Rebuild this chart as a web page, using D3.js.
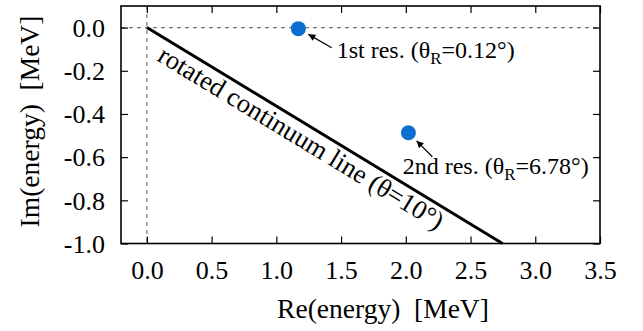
<!DOCTYPE html>
<html>
<head>
<meta charset="utf-8">
<script src="https://cdn.jsdelivr.net/npm/d3@7"></script>
<style>
  html, body { margin: 0; padding: 0; background: #fff; }
  svg { display: block; }
</style>
</head>
<body>
<svg id="chart" width="643" height="331"></svg>
<script>
// Complex-energy plane: rotated continuum and resonance poles
const xTicks = [0.0, 0.5, 1.0, 1.5, 2.0, 2.5, 3.0, 3.5];
const yTicks = [0.0, -0.2, -0.4, -0.6, -0.8, -1.0];
const xDomain = [-0.2, 3.5];
const yDomain = [-1.0, 0.1];

// rotated continuum line, theta = 10 deg (slope tan 20 deg)
const continuumRe = [0.0, 2.747];
const continuumIm = [0.0, -1.0];

// resonance poles
const resRe = [1.17, 2.02];
const resIm = [-0.005, -0.487];
const resName = ["1st res. (θ", "2nd res. (θ"];
const resAngle = ["=0.12°)", "=6.78°)"];
// label anchor and arrow tail, in data coordinates
const labelRe = [1.466, 1.976];
const labelIm = [-0.142, -0.678];
const arrowRe = [1.428, 2.205];
const arrowIm = [-0.093, -0.598];

const serif = "'Liberation Serif', 'Times New Roman', serif";
const svg = d3.select("#chart");
const plotL = 121, plotR = 600, plotT = 6, plotB = 243.5;

const x = d3.scaleLinear().domain(xDomain).range([plotL, plotR]);
const y = d3.scaleLinear().domain(yDomain).range([plotB, plotT]);
const fmt = v => (v < 0 ? "-" : "") + Math.abs(v).toFixed(1);

const defs = svg.append("defs");
defs.append("marker")
  .attr("id", "head")
  .attr("viewBox", "0 0 10 10")
  .attr("refX", 10).attr("refY", 5)
  .attr("markerWidth", 9).attr("markerHeight", 7)
  .attr("markerUnits", "userSpaceOnUse")
  .attr("orient", "auto")
  .append("path").attr("d", "M0,0L10,5L0,10z").attr("fill", "#000");

// zero reference lines
svg.append("line")
  .attr("x1", plotL).attr("x2", plotR)
  .attr("y1", y(0)).attr("y2", y(0))
  .attr("stroke", "#777").attr("stroke-width", 1.2)
  .attr("stroke-dasharray", "4,4");
svg.append("line")
  .attr("x1", x(0)).attr("x2", x(0))
  .attr("y1", plotT).attr("y2", plotB)
  .attr("stroke", "#777").attr("stroke-width", 1.2)
  .attr("stroke-dasharray", "4,4");

// axes with inward ticks on all sides
const tick = 7;
const gx = svg.append("g").attr("transform", `translate(0,${plotB})`)
  .call(d3.axisBottom(x).tickValues(xTicks).tickSizeInner(-tick).tickSizeOuter(0).tickFormat(fmt));
const gxt = svg.append("g").attr("transform", `translate(0,${plotT})`)
  .call(d3.axisTop(x).tickValues(xTicks).tickSizeInner(-tick).tickSizeOuter(0).tickFormat(""));
const gy = svg.append("g").attr("transform", `translate(${plotL},0)`)
  .call(d3.axisLeft(y).tickValues(yTicks).tickSizeInner(-tick).tickSizeOuter(0).tickFormat(fmt));
const gyr = svg.append("g").attr("transform", `translate(${plotR},0)`)
  .call(d3.axisRight(y).tickValues(yTicks).tickSizeInner(-tick).tickSizeOuter(0).tickFormat(""));

[gx, gxt, gy, gyr].forEach(g => {
  g.select(".domain").remove();
  g.selectAll(".tick line").attr("stroke", "#000").attr("stroke-width", 1.2);
});
gx.selectAll(".tick text")
  .attr("y", 35.8).attr("dy", null).attr("fill", "#000")
  .style("font-family", serif).style("font-size", "26px");
gy.selectAll(".tick text")
  .attr("x", -16).attr("dy", "0.34em").attr("fill", "#000")
  .style("font-family", serif).style("font-size", "26px");

// frame
svg.append("rect")
  .attr("x", plotL).attr("y", plotT)
  .attr("width", plotR - plotL).attr("height", plotB - plotT)
  .attr("fill", "none").attr("stroke", "#000").attr("stroke-width", 1.6);

// continuum line
const linePts = continuumRe.map((r, i) => [r, continuumIm[i]]);
svg.append("path")
  .datum(linePts)
  .attr("d", d3.line().x(d => x(d[0])).y(d => y(d[1])))
  .attr("stroke", "#000").attr("stroke-width", 3).attr("fill", "none");

// rotated label along the continuum line
const p0 = [x(linePts[0][0]), y(linePts[0][1])];
const p1 = [x(linePts[1][0]), y(linePts[1][1])];
const ang = Math.atan2(p1[1] - p0[1], p1[0] - p0[0]);
const ux = Math.cos(ang), uy = Math.sin(ang);
const along = 189, off = 23;
const lx = p0[0] + ux * along - uy * off;
const ly = p0[1] + uy * along + ux * off;
svg.append("text")
  .attr("transform", `translate(${lx},${ly}) rotate(${ang * 180 / Math.PI})`)
  .attr("text-anchor", "middle")
  .style("font-family", serif).style("font-size", "26.5px")
  .text("rotated continuum line (θ=10°)");

// resonance markers
const rad = 7.5;
svg.selectAll("circle.res")
  .data(resRe.map((v, i) => ({ re: v, im: resIm[i] })))
  .join("circle")
  .attr("class", "res")
  .attr("cx", d => x(d.re)).attr("cy", d => y(d.im))
  .attr("r", rad).attr("fill", "#0a6fcf");

// arrows and labels
resRe.forEach((v, i) => {
  const cx = x(v), cy = y(resIm[i]);
  const tx = x(arrowRe[i]), ty = y(arrowIm[i]);
  const dx = tx - cx, dy = ty - cy, len = Math.hypot(dx, dy);
  const gap = rad + 4;
  svg.append("line")
    .attr("x1", tx).attr("y1", ty)
    .attr("x2", cx + dx / len * gap).attr("y2", cy + dy / len * gap)
    .attr("stroke", "#000").attr("stroke-width", 1.2)
    .attr("marker-end", "url(#head)");
  const t = svg.append("text")
    .attr("x", x(labelRe[i])).attr("y", y(labelIm[i]))
    .style("font-family", serif).style("font-size", "24px");
  t.append("tspan").text(resName[i]);
  t.append("tspan").style("font-size", "17px").attr("dy", 6).text("R");
  t.append("tspan").attr("dy", -6).text(resAngle[i]);
});

// axis titles
svg.append("text")
  .attr("x", 383).attr("y", 317.5)
  .attr("text-anchor", "middle")
  .style("font-family", serif).style("font-size", "27.5px")
  .style("white-space", "pre")
  .text("Re(energy)  [MeV]");
svg.append("text")
  .attr("transform", "translate(39,121.5) rotate(-90)")
  .attr("text-anchor", "middle")
  .style("font-family", serif).style("font-size", "27.5px")
  .style("white-space", "pre")
  .text("Im(energy)  [MeV]");
</script>
</body>
</html>
